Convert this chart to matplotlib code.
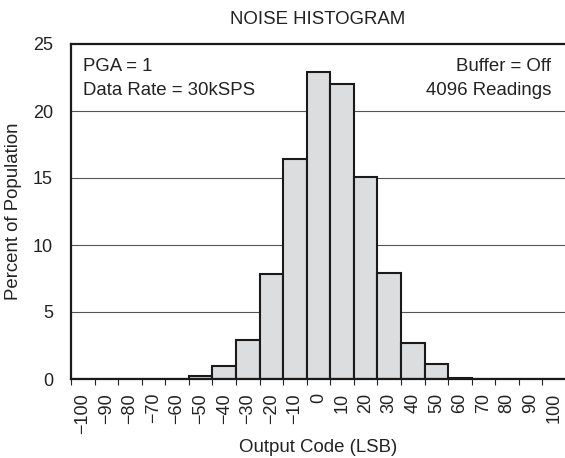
import numpy as np
import matplotlib
matplotlib.use('Agg')
import matplotlib.pyplot as plt

# bin centres (LSB) and percent of population per bin
codes = np.arange(-100, 101, 10)
percent = [0, 0, 0, 0, 0, 0.22, 0.97, 2.9, 7.85, 16.45, 22.9,
           22.0, 15.05, 7.9, 2.72, 1.15, 0.05, 0, 0, 0, 0]
tick_labels = [str(c).replace('-', '\u2212') for c in codes]
y_ticks = [0, 5, 10, 15, 20, 25]

plt.rcParams['font.family'] = ['Liberation Sans', 'DejaVu Sans']
plt.rcParams['font.size'] = 13.4

fig = plt.figure(figsize=(5.65, 4.58), dpi=100)
ax = fig.add_axes([71 / 565, 79 / 458, 495 / 565, 335 / 458])

ax.bar(codes, percent, width=10, color='#dcdddf', edgecolor='#1a1a1a',
       linewidth=1.5, zorder=3)

for g in y_ticks[1:-1]:
    ax.axhline(g, color='#555555', lw=0.8, zorder=1)

ax.set_xlim(-105, 105)
ax.set_ylim(0, 25)
ax.set_yticks(y_ticks)
ax.set_xticks(codes)
ax.set_xticklabels(tick_labels, rotation=90, va='top', ha='center',
                   fontsize=13)
ax.set_xticks(np.arange(-105, 106, 10), minor=True)
ax.tick_params(axis='x', which='major', length=0, pad=10, colors='#222222')
ax.tick_params(axis='x', which='minor', length=4, width=0.8, direction='out',
               color='#222222')
ax.tick_params(axis='y', length=0, pad=13, colors='#222222', labelsize=13)

for s in ['left', 'top', 'bottom']:
    ax.spines[s].set_linewidth(1.6)
    ax.spines[s].set_color('#1a1a1a')
    ax.spines[s].set_zorder(4)
ax.spines['right'].set_visible(False)

ax.text(0.024, 0.933, 'PGA = 1', transform=ax.transAxes, va='center',
        ha='left', color='#222222')
ax.text(0.024, 0.86, 'Data Rate = 30kSPS', transform=ax.transAxes,
        va='center', ha='left', color='#222222')
ax.text(0.97, 0.933, 'Buffer = Off', transform=ax.transAxes, va='center',
        ha='right', color='#222222')
ax.text(0.97, 0.86, '4096 Readings', transform=ax.transAxes, va='center',
        ha='right', color='#222222')

fig.text(318 / 565, 1 - 19 / 458, 'NOISE HISTOGRAM', ha='center',
         va='center', color='#222222')
fig.text(14 / 565, 1 - 211 / 458, 'Percent of Population', rotation=90,
         ha='center', va='center', color='#222222')
fig.text(318 / 565, 1 - 448 / 458, 'Output Code (LSB)', ha='center',
         va='center', color='#222222')

fig.savefig('out.png', dpi=100)
